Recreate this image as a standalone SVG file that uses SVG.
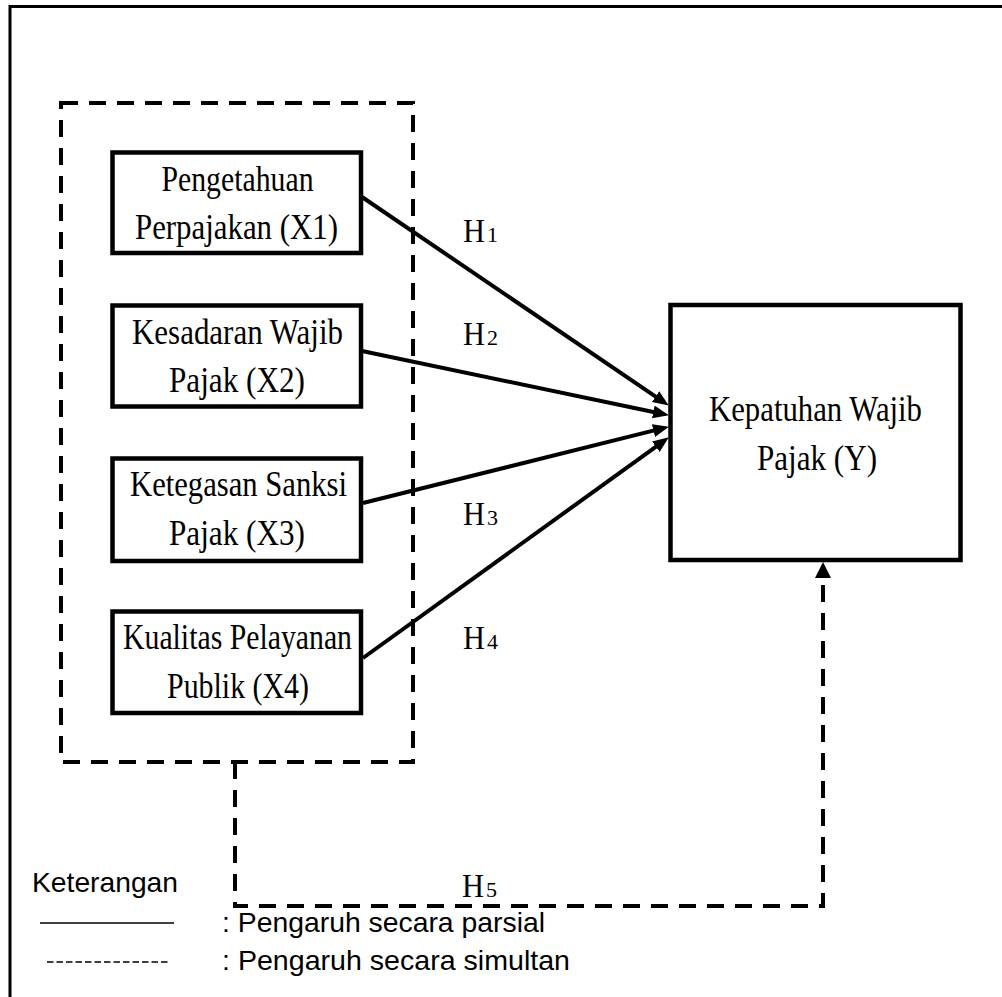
<svg xmlns="http://www.w3.org/2000/svg" width="1002" height="997" viewBox="0 0 1002 997">
<style>
.box{fill:#fff;stroke:#000;stroke-width:4.5}
.t{font-family:"Liberation Serif","Times New Roman",serif;font-size:35px;fill:#000;text-anchor:middle}
.h{font-family:"Liberation Serif","Times New Roman",serif;font-size:33px;fill:#000}
.sub{font-family:"Liberation Serif","Times New Roman",serif;font-size:22px;fill:#000}
.leg{font-family:"Liberation Sans",Arial,sans-serif;font-size:28px;fill:#000}
.arr{fill:none;stroke:#000;stroke-width:4}
.dash{fill:none;stroke:#000;stroke-width:4;stroke-dasharray:17 11}
</style>
<defs>
<marker id="ah" markerUnits="userSpaceOnUse" markerWidth="17" markerHeight="14" refX="5" refY="6.5" orient="auto">
<path d="M0,0 L16,6.5 L0,13 Z" fill="#000"/>
</marker>
<marker id="ahd" markerUnits="userSpaceOnUse" markerWidth="18" markerHeight="18" refX="6" refY="8" orient="auto">
<path d="M0,0 L16,8 L0,16 Z" fill="#000"/>
</marker>
</defs>
<rect width="1002" height="997" fill="#fff"/>
<path d="M10,997 L10,6.5 L1002,6.5" fill="none" stroke="#000" stroke-width="3"/>
<g id="group-x">
<rect x="61" y="103" width="352" height="659" class="dash"/>
</g>
<g id="x1">
<rect class="box" x="112.5" y="152.5" width="248.5" height="100.5"/>
<text class="t" x="237.5" y="191" textLength="152" lengthAdjust="spacingAndGlyphs">Pengetahuan</text>
<text class="t" x="236.5" y="239" textLength="203" lengthAdjust="spacingAndGlyphs">Perpajakan (X1)</text>
</g>
<g id="x2">
<rect class="box" x="112.5" y="305.5" width="248.5" height="101"/>
<text class="t" x="237.5" y="344" textLength="211" lengthAdjust="spacingAndGlyphs">Kesadaran Wajib</text>
<text class="t" x="237" y="392" textLength="136" lengthAdjust="spacingAndGlyphs">Pajak (X2)</text>
</g>
<g id="x3">
<rect class="box" x="112.5" y="458.5" width="248.5" height="102.5"/>
<text class="t" x="238.5" y="496" textLength="217" lengthAdjust="spacingAndGlyphs">Ketegasan Sanksi</text>
<text class="t" x="237" y="545" textLength="136" lengthAdjust="spacingAndGlyphs">Pajak (X3)</text>
</g>
<g id="x4">
<rect class="box" x="112.5" y="611.5" width="248.5" height="101.5"/>
<text class="t" x="237.5" y="649" textLength="229" lengthAdjust="spacingAndGlyphs">Kualitas Pelayanan</text>
<text class="t" x="238" y="698" textLength="142" lengthAdjust="spacingAndGlyphs">Publik (X4)</text>
</g>
<g id="y">
<rect class="box" x="670.5" y="305" width="290" height="255"/>
<text class="t" x="815.5" y="421" textLength="213" lengthAdjust="spacingAndGlyphs">Kepatuhan Wajib</text>
<text class="t" x="817" y="470" textLength="120" lengthAdjust="spacingAndGlyphs">Pajak (Y)</text>
</g>
<g id="connectors">
<line class="arr" x1="362" y1="197" x2="659.7" y2="399.4" marker-end="url(#ah)"/>
<line class="arr" x1="362" y1="351" x2="658.2" y2="413" marker-end="url(#ah)"/>
<line class="arr" x1="363" y1="503" x2="658.3" y2="429.4" marker-end="url(#ah)"/>
<line class="arr" x1="363" y1="658" x2="659.9" y2="443.8" marker-end="url(#ah)"/>
<path class="dash" d="M235,762 L235,906 L823,906 L823,572" marker-end="url(#ahd)"/>
</g>
<g id="labels">
<text class="h" x="463" y="242" textLength="22" lengthAdjust="spacingAndGlyphs">H</text>
<text class="sub" x="487" y="242">1</text>
<text class="h" x="463" y="345" textLength="22" lengthAdjust="spacingAndGlyphs">H</text>
<text class="sub" x="487" y="345">2</text>
<text class="h" x="463" y="525" textLength="22" lengthAdjust="spacingAndGlyphs">H</text>
<text class="sub" x="487" y="525">3</text>
<text class="h" x="463" y="649" textLength="22" lengthAdjust="spacingAndGlyphs">H</text>
<text class="sub" x="487" y="649">4</text>
<text class="h" x="462" y="897" textLength="22" lengthAdjust="spacingAndGlyphs">H</text>
<text class="sub" x="486" y="897">5</text>
</g>
<g id="legend">
<text class="leg" x="32" y="892" textLength="146" lengthAdjust="spacingAndGlyphs">Keterangan</text>
<line x1="40" y1="923" x2="174" y2="923" stroke="#000" stroke-width="1.5"/>
<line x1="47" y1="962" x2="169" y2="962" stroke="#000" stroke-width="1.5" stroke-dasharray="6.5 3"/>
<text class="leg" x="222" y="932" textLength="323" lengthAdjust="spacingAndGlyphs">: Pengaruh secara parsial</text>
<text class="leg" x="222" y="970" textLength="348" lengthAdjust="spacingAndGlyphs">: Pengaruh secara simultan</text>
</g>
</svg>
